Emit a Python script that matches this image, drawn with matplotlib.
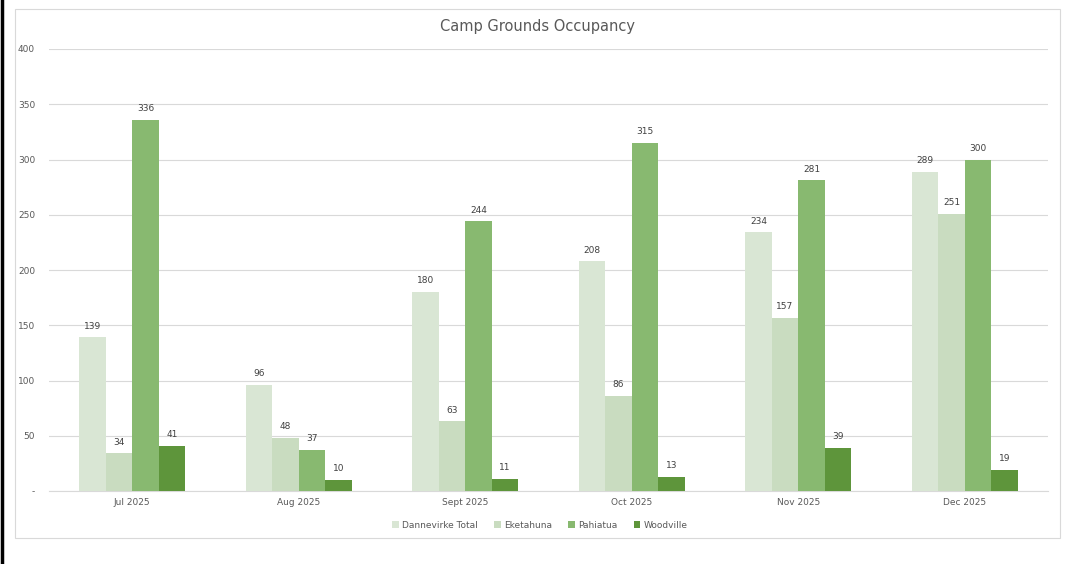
import matplotlib
matplotlib.use("Agg")
import matplotlib.pyplot as plt
import numpy as np
from matplotlib.patches import Rectangle
from matplotlib.lines import Line2D

categories = ["Jul 2025", "Aug 2025", "Sept 2025", "Oct 2025", "Nov 2025", "Dec 2025"]
series_names = ["Dannevirke Total", "Eketahuna", "Pahiatua", "Woodville"]
dannevirke = [139, 96, 180, 208, 234, 289]
eketahuna = [34, 48, 63, 86, 157, 251]
pahiatua = [336, 37, 244, 315, 281, 300]
woodville = [41, 10, 11, 13, 39, 19]
colors = ["#D9E6D4", "#C9DCC0", "#88B970", "#5E953B"]
yticks = [0, 50, 100, 150, 200, 250, 300, 350, 400]
ytick_labels = ["-", "50", "100", "150", "200", "250", "300", "350", "400"]

W, H = 1068, 564
fig = plt.figure(figsize=(W / 100, H / 100), dpi=100)
fig.patch.set_facecolor("white")

# chart area border and left black line
fig.add_artist(Rectangle((15 / W, 1 - 538 / H), (1060 - 15) / W, (538 - 9) / H,
                         transform=fig.transFigure, fill=False, edgecolor="#D9D9D9", lw=0.8))
fig.add_artist(Line2D([1.5 / W, 1.5 / W], [0, 1], transform=fig.transFigure, color="black", lw=2.5))

left, right, top, bottom = 49, 1048, 49, 491
ax = fig.add_axes([left / W, 1 - bottom / H, (right - left) / W, (bottom - top) / H])

data = [dannevirke, eketahuna, pahiatua, woodville]
n = len(data)
bw = 0.159
x = np.arange(len(categories))
for i, (vals, c, name) in enumerate(zip(data, colors, series_names)):
    pos = x + (i - (n - 1) / 2) * bw
    ax.bar(pos, vals, width=bw, color=c, label=name, zorder=3)
    for p, v in zip(pos, vals):
        ax.text(p, v + 6, str(v), ha="center", va="bottom", fontsize=6.5, color="#404040")

ax.set_xlim(-0.5, len(categories) - 0.5)
ax.set_ylim(0, 400)
ax.set_yticks(yticks)
ax.set_yticklabels(ytick_labels, fontsize=6.5, color="#595959")
ax.set_xticks(x)
ax.set_xticklabels(categories, fontsize=6.5, color="#595959")
ax.tick_params(axis="both", length=0, pad=5)
ax.tick_params(axis="y", pad=10)
ax.grid(axis="y", color="#D9D9D9", lw=0.8, zorder=0)
for s in ["top", "right", "left"]:
    ax.spines[s].set_visible(False)
ax.spines["bottom"].set_color("#D9D9D9")
ax.spines["bottom"].set_linewidth(0.8)

fig.text(537 / W, 1 - 27 / H, "Camp Grounds Occupancy", ha="center", va="center",
         fontsize=10.5, color="#595959")

leg = fig.legend(loc="center", bbox_to_anchor=(540 / W, 1 - 525 / H), ncol=4, frameon=False,
                 fontsize=6.5, handlelength=0.7, handleheight=0.7, handletextpad=0.4,
                 columnspacing=1.8)
for t in leg.get_texts():
    t.set_color("#595959")

fig.savefig("out.png", dpi=100, facecolor="white")
